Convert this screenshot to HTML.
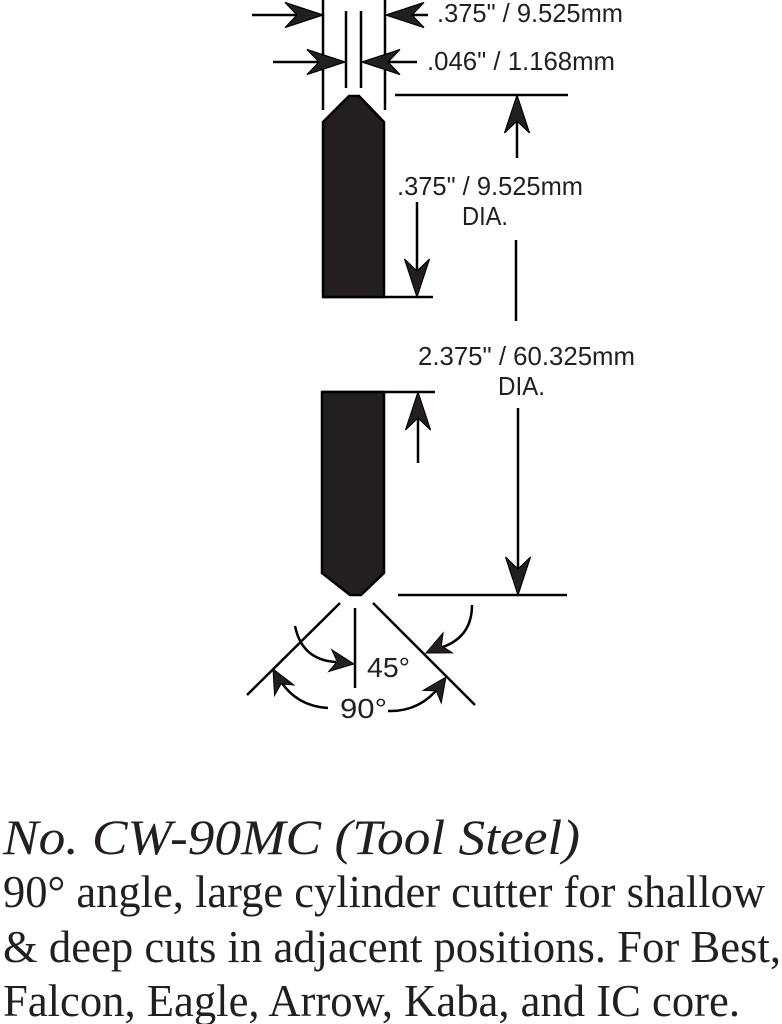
<!DOCTYPE html>
<html>
<head>
<meta charset="utf-8">
<style>
  html, body { margin: 0; padding: 0; background: #fff; }
  body { width: 782px; height: 1024px; overflow: hidden; }
  svg { display: block; }
  .dim { font-family: "Liberation Sans", Arial, sans-serif; font-size: 26px; fill: #231f20; }
  .ang { font-family: "Liberation Sans", Arial, sans-serif; font-size: 28px; fill: #231f20; }
  .title { font-family: "Liberation Serif", "Times New Roman", serif; font-style: italic; font-size: 50px; fill: #231f20; }
  .body { font-family: "Liberation Serif", "Times New Roman", serif; font-size: 46px; fill: #231f20; }
</style>
</head>
<body>
<svg width="782" height="1024" viewBox="0 0 782 1024" xmlns="http://www.w3.org/2000/svg">
  <defs>
    <path id="ah" d="M0,0 L-38,-12.5 L-26,0 L-38,12.5 Z" fill="#231f20" stroke="#000" stroke-width="1.2" stroke-linejoin="miter"/>
    <path id="ahs" d="M0,0 L-24,-11 L-17,0 L-24,11 Z" fill="#231f20" stroke="#000" stroke-width="1"/>
  </defs>

  <g stroke="#000" stroke-width="2.5" fill="none" stroke-linecap="butt">
    <!-- top extension lines -->
    <line x1="323" y1="0" x2="323" y2="110"/>
    <line x1="385" y1="0" x2="385" y2="110"/>
    <line x1="346" y1="11" x2="346" y2="88"/>
    <line x1="361" y1="11" x2="361" y2="88"/>

    <!-- horizontal arrow shafts -->
    <line x1="252" y1="15" x2="300" y2="15"/>
    <line x1="410" y1="15" x2="428" y2="15"/>
    <line x1="273" y1="62" x2="322" y2="62"/>
    <line x1="385" y1="62" x2="417" y2="62"/>

    <!-- horizontal reference lines -->
    <line x1="395" y1="95" x2="568" y2="95"/>
    <line x1="323" y1="297" x2="433" y2="297"/>
    <line x1="322" y1="392" x2="435" y2="392"/>
    <line x1="398" y1="595" x2="567" y2="595"/>

    <!-- vertical arrow shafts -->
    <line x1="517" y1="110" x2="517" y2="158"/>
    <line x1="417" y1="202" x2="417" y2="280"/>
    <line x1="516" y1="240" x2="516" y2="321"/>
    <line x1="418" y1="410" x2="418" y2="463"/>
    <line x1="518" y1="408" x2="518" y2="580"/>

    <!-- angle lines -->
    <line x1="340" y1="603" x2="247" y2="695"/>
    <line x1="373" y1="603" x2="475" y2="705"/>
    <line x1="355" y1="608" x2="355" y2="688"/>

    <!-- curved arrows -->
    <path d="M295,626 Q302,660 336,662"/>
    <path d="M472,605 Q472,638 440,648"/>
    <path d="M328,708 Q296,706 280,680"/>
    <path d="M388,711 Q420,712 440,686"/>
  </g>

  <!-- cutters -->
  <polygon points="323,122 349,96 359,96 384,122 384,297 323,297" fill="#231f20" stroke="#000" stroke-width="2.5" stroke-linejoin="miter"/>
  <polygon points="322,392 384,392 384,573 361,595 350,595 322,573" fill="#231f20" stroke="#000" stroke-width="2.5" stroke-linejoin="miter"/>

  <!-- straight arrowheads -->
  <use href="#ah" transform="translate(323,15)"/>
  <use href="#ah" transform="translate(386,15) rotate(180)"/>
  <use href="#ah" transform="translate(345,62)"/>
  <use href="#ah" transform="translate(362,62) rotate(180)"/>
  <use href="#ah" transform="translate(517,95) rotate(-90)"/>
  <use href="#ah" transform="translate(417,297) rotate(90)"/>
  <use href="#ah" transform="translate(418,392) rotate(-90)"/>
  <use href="#ah" transform="translate(518,595) rotate(90)"/>

  <!-- curved arrowheads -->
  <use href="#ahs" transform="translate(354,664) rotate(8)"/>
  <use href="#ahs" transform="translate(426,653) rotate(155)"/>
  <use href="#ahs" transform="translate(273,669) rotate(-118)"/>
  <use href="#ahs" transform="translate(446,677) rotate(-55)"/>

  <!-- dimension text -->
  <text class="dim" x="437" y="22" textLength="186" lengthAdjust="spacingAndGlyphs">.375" / 9.525mm</text>
  <text class="dim" x="427" y="70" textLength="188" lengthAdjust="spacingAndGlyphs">.046" / 1.168mm</text>
  <text class="dim" x="397" y="195" textLength="186" lengthAdjust="spacingAndGlyphs">.375" / 9.525mm</text>
  <text class="dim" x="462" y="225" textLength="46" lengthAdjust="spacingAndGlyphs">DIA.</text>
  <text class="dim" x="418" y="365" textLength="217" lengthAdjust="spacingAndGlyphs">2.375" / 60.325mm</text>
  <text class="dim" x="498" y="395" textLength="47" lengthAdjust="spacingAndGlyphs">DIA.</text>
  <text class="ang" x="367" y="677" textLength="43" lengthAdjust="spacingAndGlyphs">45°</text>
  <text class="ang" x="340" y="718" textLength="47" lengthAdjust="spacingAndGlyphs">90°</text>

  <!-- description -->
  <text class="title" x="3" y="854" textLength="577" lengthAdjust="spacingAndGlyphs">No. CW-90MC (Tool Steel)</text>
  <text class="body" x="3" y="907" textLength="762" lengthAdjust="spacingAndGlyphs">90° angle, large cylinder cutter for shallow</text>
  <text class="body" x="3" y="962" textLength="778" lengthAdjust="spacingAndGlyphs">&amp; deep cuts in adjacent positions. For Best,</text>
  <text class="body" x="3" y="1016" textLength="737" lengthAdjust="spacingAndGlyphs">Falcon, Eagle, Arrow, Kaba, and IC core.</text>
</svg>
</body>
</html>
